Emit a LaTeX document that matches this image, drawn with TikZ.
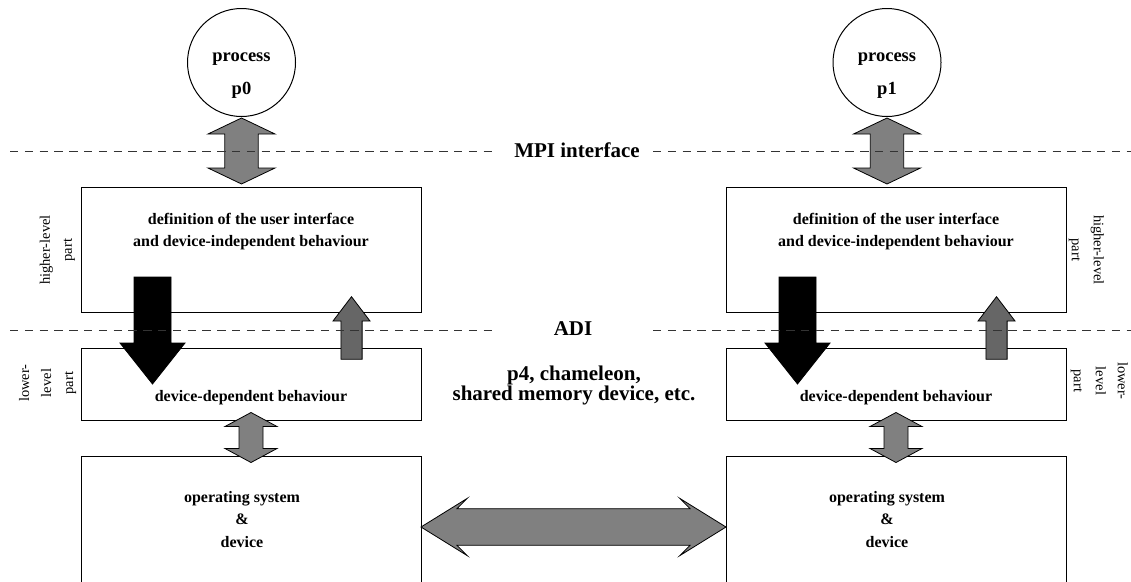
\documentclass[tikz,border=0pt]{standalone}
\usepackage{fontspec}
\setmainfont{Liberation Serif}
\usetikzlibrary{calc}

% vertical block arrow with a head at both ends
% #1 style, #2 upper tip, #3 lower tip, #4 half shaft, #5 half head, #6 head length
\newcommand\blockdblv[6]{%
  \draw[#1] (#2) -- ($(#2)+(#5,#6)$) -- ($(#2)+(#4,#6)$) -- ($(#3)+(#4,-#6)$)
    -- ($(#3)+(#5,-#6)$) -- (#3) -- ($(#3)+(-#5,-#6)$) -- ($(#3)+(-#4,-#6)$)
    -- ($(#2)+(-#4,#6)$) -- ($(#2)+(-#5,#6)$) -- cycle;}
% vertical block arrow with one head
% #1 style, #2 tail, #3 tip, #4 half shaft, #5 half head, #6 signed head length
\newcommand\blocksglv[6]{%
  \draw[#1] (#3) -- ($(#3)+(#5,#6)$) -- ($(#3)+(#4,#6)$) -- ($(#2)+(#4,0)$)
    -- ($(#2)+(-#4,0)$) -- ($(#3)+(-#4,#6)$) -- ($(#3)+(-#5,#6)$) -- cycle;}

\begin{document}
\begin{tikzpicture}[x=1pt,y=-1pt,
  frame/.style={draw=black, line width=1pt, inner sep=0pt, outer sep=0pt,
    anchor=north west, minimum width=340pt},
  proc/.style={draw=black, circle, line width=1pt, minimum size=108pt,
    inner sep=0pt, outer sep=0pt},
  boxtext/.style={font=\fontsize{16}{22}\selectfont\bfseries, align=center, inner sep=0pt},
  ostext/.style={font=\fontsize{16}{22.5}\selectfont\bfseries, align=center, inner sep=0pt},
  proctext/.style={font=\fontsize{18.5}{33}\selectfont\bfseries, align=center, inner sep=0pt},
  bigtext/.style={font=\fontsize{21}{20.5}\selectfont\bfseries, align=center, inner sep=0pt},
  side/.style={font=\fontsize{14.5}{22}\selectfont, align=center, inner sep=0pt},
  sepline/.style={draw=black!80, dash pattern=on 8.3pt off 6.5pt, line width=0.9pt},
  dblarrow/.style={draw=black, fill=black!50, line width=0.8pt, line join=miter},
  uparrow/.style={draw=black, fill=black!60, line width=0.8pt},
  downarrow/.style={draw=black, fill=black, line width=0.8pt},
]
\useasboundingbox (0,0) rectangle (1131,581);
\clip (0,0) rectangle (1131,581);

% processes
\node[proc] (p0) at (241.5,62.5) {};
\node[proc] (p1) at (887,62.5) {};

% layers of the left stack
\node[frame, minimum height=125pt] (hl0) at (81,187) {};
\node[frame, minimum height=72pt]  (ll0) at (81,348) {};
\node[frame, minimum height=142pt] (os0) at (81,456) {};
% layers of the right stack
\node[frame, minimum height=125pt] (hl1) at (726,187) {};
\node[frame, minimum height=72pt]  (ll1) at (726,348) {};
\node[frame, minimum height=142pt] (os1) at (726,456) {};

% process <-> MPI layer
\coordinate (a0t) at ($(p0.south)+(0,1.5)$);
\coordinate (a0b) at ($(p0.south |- hl0.north)+(0,-3)$);
\coordinate (a1t) at ($(p1.south)+(0,1.5)$);
\coordinate (a1b) at ($(p1.south |- hl1.north)+(0,-3)$);
\blockdblv{dblarrow}{a0t}{a0b}{16.7}{33.5}{16}
\blockdblv{dblarrow}{a1t}{a1b}{16.7}{33.5}{16}

% device layer <-> operating system
\coordinate (m0t) at ($(ll0.south)+(0,-7.5)$);
\coordinate (m0b) at ($(os0.north)+(0,6.5)$);
\coordinate (m1t) at ($(ll1.south)+(0,-7.5)$);
\coordinate (m1b) at ($(os1.north)+(0,6.5)$);
\blockdblv{dblarrow}{m0t}{m0b}{12}{26}{14}
\blockdblv{dblarrow}{m1t}{m1b}{12}{26}{14}

% calls down through the ADI
\coordinate (k0a) at ($(hl0.south west)+(71.5,-35)$);
\coordinate (k0b) at ($(ll0.west)+(71.5,0)$);
\coordinate (k1a) at ($(hl1.south west)+(71.5,-35)$);
\coordinate (k1b) at ($(ll1.west)+(71.5,0)$);
\blocksglv{downarrow}{k0a}{k0b}{18.5}{32.5}{-41}
\blocksglv{downarrow}{k1a}{k1b}{18.5}{32.5}{-41}

% replies up through the ADI
\coordinate (u0a) at ($(ll0.north east)+(-69.5,11.3)$);
\coordinate (u0b) at ($(hl0.south east)+(-69.5,-15.3)$);
\coordinate (u1a) at ($(ll1.north east)+(-69.5,11.3)$);
\coordinate (u1b) at ($(hl1.south east)+(-69.5,-15.3)$);
\blocksglv{uparrow}{u0a}{u0b}{10.6}{18.5}{24.3}
\blocksglv{uparrow}{u1a}{u1b}{10.6}{18.5}{24.3}

% link between the two devices
\draw[dblarrow] (os0.east) -- ++(46,-28.5) -- ++(-10,10.2)
  -- ($(os1.west)+(-36,-18.3)$) -- ++(-10,-10.2) -- (os1.west)
  -- ++(-46,28.5) -- ++(10,-10.2) -- ($(os0.east)+(36,18.3)$)
  -- ++(10,10.2) -- cycle;

% texts
\node[proctext] (t0) at (241.5,76) {process\\p0};
\node[proctext] (t1) at (887,76) {process\\p1};
\node[boxtext] (h0) at (251,232) {definition of the user interface\\and device-independent behaviour};
\node[boxtext] (h1) at (896,232) {definition of the user interface\\and device-independent behaviour};
\node[boxtext] (d0) at (251,397.5) {device-dependent behaviour};
\node[boxtext] (d1) at (896,397.5) {device-dependent behaviour};
\node[ostext] (o0) at (242,519.5) {operating system\\\&\\device};
\node[ostext] (o1) at (887,519.5) {operating system\\\&\\device};

\node[bigtext] (mpi) at (577,150.5) {MPI interface};
\node[bigtext] (adi) at (573,328.3) {ADI};
\node[bigtext] (dev) at (574,385.3) {p4, chameleon,\\shared memory device, etc.};

\node[side, rotate=90]  (hp0) at (57.4,250) {higher-level\\part};
\node[side, rotate=-90] (hp1) at (1086.4,250) {higher-level\\part};
\node[side, rotate=90]  (lp0) at (47.6,383) {lower-\\level\\part};
\node[side, rotate=-90] (lp1) at (1099.4,381) {lower-\\level\\part};

% interface separators
\draw[sepline] (10,151.5) -- (492,151.5);
\draw[sepline] (653,151.5) -- (1131,151.5);
\draw[sepline] (10,330.7) -- (492,330.7);
\draw[sepline] (653,330.7) -- (1131,330.7);
\end{tikzpicture}
\end{document}
